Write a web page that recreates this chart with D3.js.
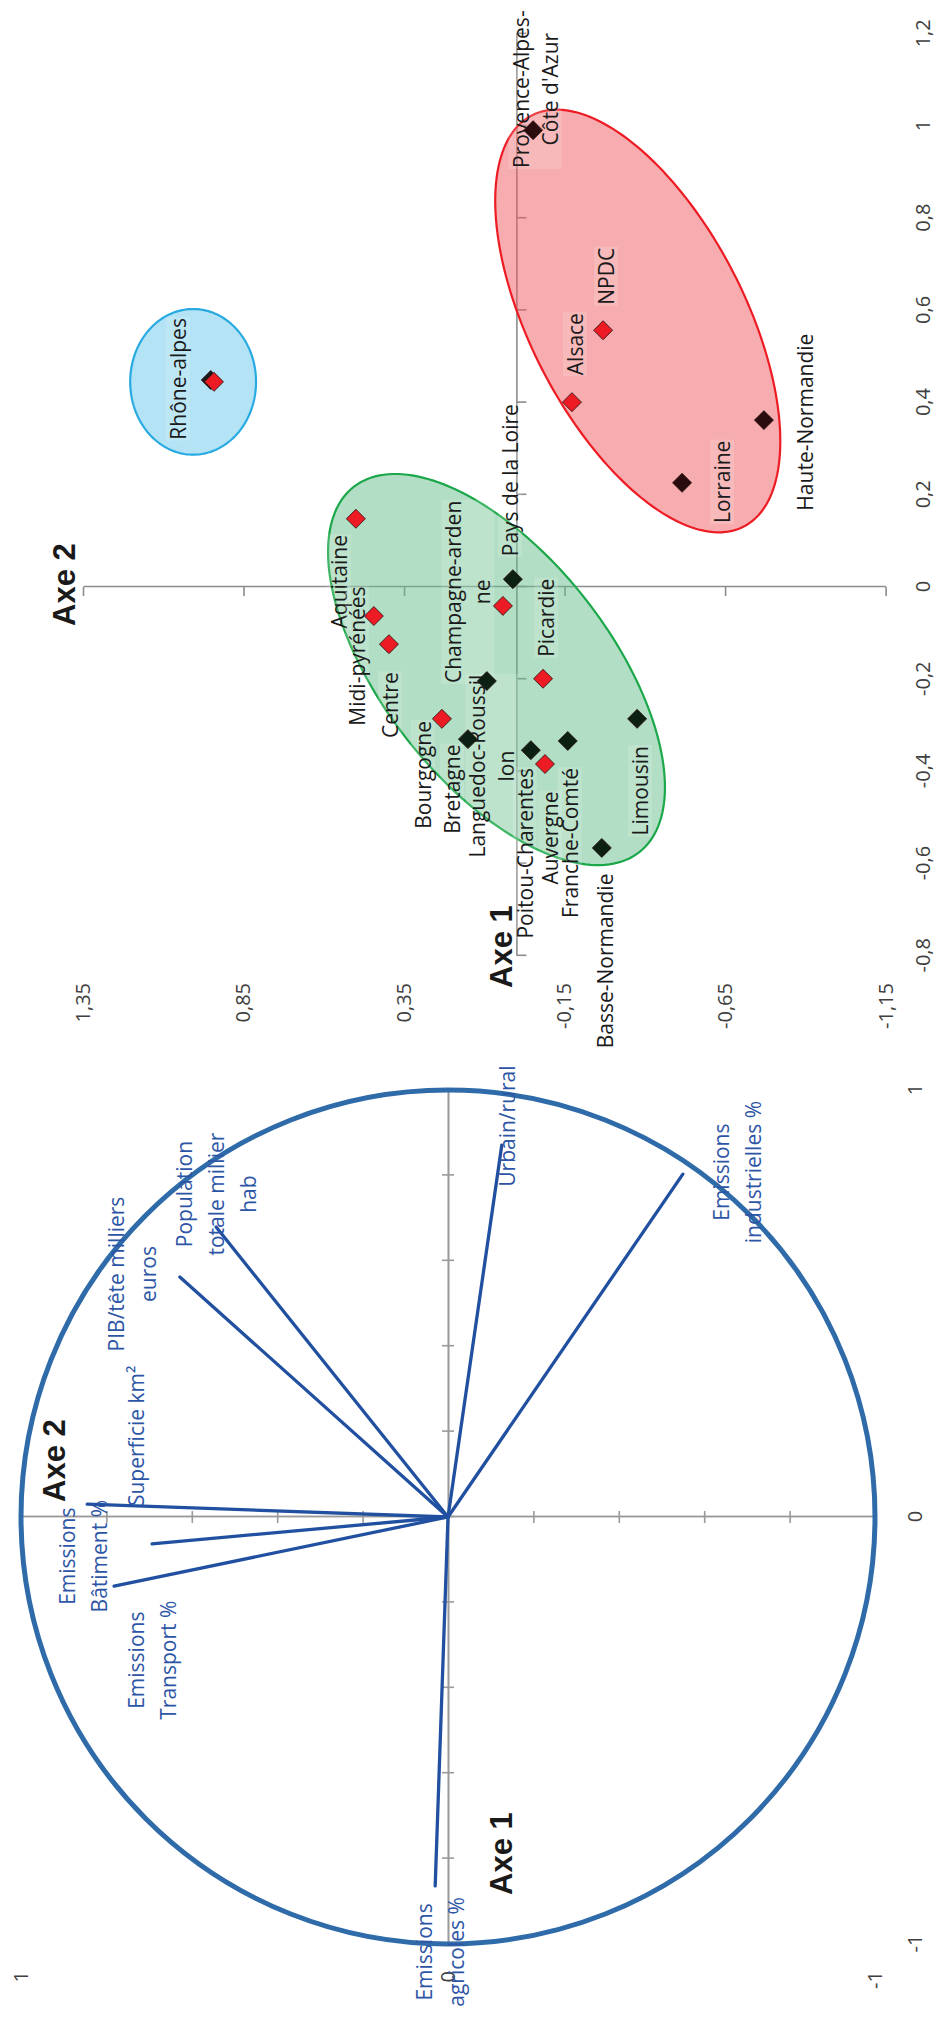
<!DOCTYPE html>
<html>
<head>
<meta charset="utf-8">
<script src="https://cdn.jsdelivr.net/npm/d3@7"></script>
<style>
  html, body { margin: 0; padding: 0; background: #fff; }
  svg { display: block; }
</style>
</head>
<body>
<div id="chart"></div>
<script>
// --- Cercle des corrélations : coordonnées des variables sur Axe 1 / Axe 2 ---
const varNames = ["Urbain/rural", "Emissions\nindustrielles %", "Population\ntotale millier\nhab",
  "PIB/tête milliers\neuros", "Emissions\nBâtiment %", "Superficie km²", "Emissions\nTransport %",
  "Emissions\nagricoles %"];
const varAxe1 = [0.871, 0.803, 0.679, 0.562, 0.030, -0.063, -0.162, -0.864];
const varAxe2 = [-0.126, -0.550, 0.543, 0.628, 0.845, 0.693, 0.782, 0.030];

// --- Projection des régions ---
const regNames = ["Provence-Alpes-\nCôte d'Azur", "NPDC", "Alsace", "Haute-Normandie", "Lorraine", "",
  "Rhône-alpes", "Aquitaine", "Midi-pyrénées", "Centre", "Bourgogne", "Bretagne", "Pays de la Loire",
  "Champagne-arden\nne", "Picardie", "Languedoc-Roussil\nlon", "Limousin", "Franche-Comté",
  "Poitou-Charentes", "Auvergne", "Basse-Normandie"];
const regAxe1 = [0.991, 0.557, 0.401, 0.362, 0.226, 0.449, 0.445, 0.148, -0.063, -0.124, -0.286, -0.330,
  0.017, -0.041, -0.199, -0.204, -0.286, -0.334, -0.354, -0.384, -0.566];
const regAxe2 = [-0.052, -0.270, -0.173, -0.771, -0.516, 0.952, 0.942, 0.500, 0.444, 0.397, 0.232, 0.151,
  0.011, 0.042, -0.083, 0.092, -0.376, -0.160, -0.045, -0.089, -0.266];
const regMarker = ["noir", "rouge", "rouge", "noir", "noir", "noir", "rouge", "rouge", "rouge", "rouge",
  "rouge", "noir", "noir", "rouge", "rouge", "noir", "noir", "noir", "noir", "rouge", "noir"];
const regGroupe = ["rouge", "rouge", "rouge", "rouge", "rouge", "bleu", "bleu", "vert", "vert", "vert",
  "vert", "vert", "vert", "vert", "vert", "vert", "vert", "vert", "vert", "vert", "vert"];

// --- Groupes (ellipses) : centre et demi-diamètres conjugués, en unités des axes ---
const groupNames = ["bleu", "vert", "rouge"];
const groupAxe1 = [0.445, -0.179, 0.577];
const groupAxe2 = [1.007, 0.062, -0.378];
const groupU = [[0, 0.196], [-0.396, -0.445], [-0.446, -0.330]];
const groupV = [[0.158, 0], [-0.152, 0.278], [-0.106, 0.297]];

// --- Graduations ---
const circleTicks = [-1, -0.8, -0.6, -0.4, -0.2, 0, 0.2, 0.4, 0.6, 0.8, 1];
const circleTickLabels = [-1, 0, 1];
const scatterXTicks = [-0.8, -0.6, -0.4, -0.2, 0, 0.2, 0.4, 0.6, 0.8, 1, 1.2];
const scatterYTicks = [1.35, 0.85, 0.35, -0.15, -0.65, -1.15];

// label offsets (px, from the point)
const varLabelDx = [19, 2, 33, 3, -52, 108, -74, -66];
const varLabelDy = [5, 54, 0, -48, -4, -16, 38, 5];
const regLabelDx = [41, 54, 58, -2, 1, 0, 3, -63, -40, -61, -56, -50, 99, 14, 61, -85, -72, -102, -103, -74, -113];
const regLabelDy = [2, 3, 3, 41, 40, 0, -36, -17, -17, 1, -19, -16, -3, -35, 3, 5, 3, 2, -6, 5, 3];

const W = 938, H = 2022;
const font = "'Open Sans', 'Noto Sans', sans-serif";
const axisGray = "#9a9a9a";
const fmt = d3.formatLocale({ decimal: ",", thousands: " ", grouping: [3], currency: ["", " €"], minus: "-" }).format("~g");

const fills = { bleu: "#67c7eb", vert: "#65bd8b", rouge: "#ef5b61" };
const strokes = { bleu: "#29abe2", vert: "#1ca84a", rouge: "#ed1c24" };
const blackIn = { bleu: "#1a1a1a", vert: "#0b2013", rouge: "#2a0c0e" };

const svg = d3.select("#chart").append("svg").attr("width", W).attr("height", H);
// the whole figure is laid out landscape then turned a quarter turn
const root = svg.append("g").attr("transform", `translate(0,${H}) rotate(-90)`);

function multiline(sel, text, cx, cy, lh) {
  const lines = text.split("\n");
  const t = sel.append("text").attr("text-anchor", "middle");
  lines.forEach((l, i) => {
    t.append("tspan").attr("x", cx).attr("y", cy + (i - (lines.length - 1) / 2) * lh)
      .attr("dominant-baseline", "central").text(l);
  });
  return t;
}

function styleLabels(g, size) {
  g.selectAll("text").attr("font-family", font).attr("font-size", size).attr("fill", "#404040");
}

// ================= Cercle des corrélations =================
const xC = d3.scaleLinear().domain([-1, 1]).range([78, 932]);
const yC = d3.scaleLinear().domain([-1, 1]).range([875, 21]);
const circ = root.append("g");

[d3.axisBottom, d3.axisTop].forEach(ax => {
  const g = circ.append("g").attr("transform", `translate(0,${yC(0)})`)
    .call(ax(xC).tickValues(circleTicks).tickSize(6).tickSizeOuter(0).tickFormat(""));
  g.selectAll("path,line").attr("stroke", axisGray).attr("stroke-width", 1.6);
});
[d3.axisLeft, d3.axisRight].forEach(ax => {
  const g = circ.append("g").attr("transform", `translate(${xC(0)},0)`)
    .call(ax(yC).tickValues(circleTicks).tickSize(6).tickSizeOuter(0).tickFormat(""));
  g.selectAll("path,line").attr("stroke", axisGray).attr("stroke-width", 1.6);
});

const cxl = circ.append("g").attr("transform", "translate(0,908)")
  .call(d3.axisBottom(xC).tickValues(circleTickLabels).tickSize(0).tickPadding(0).tickFormat(fmt));
cxl.select(".domain").remove();
styleLabels(cxl, 20);
const cyl = circ.append("g").attr("transform", "translate(51,0)")
  .call(d3.axisLeft(yC).tickValues(circleTickLabels).tickSize(0).tickPadding(0).tickFormat(fmt));
cyl.select(".domain").remove();
styleLabels(cyl, 20);

circ.append("ellipse")
  .attr("cx", xC(0)).attr("cy", yC(0))
  .attr("rx", xC(1) - xC(0)).attr("ry", yC(0) - yC(1))
  .attr("fill", "none").attr("stroke", "#2e6ba8").attr("stroke-width", 5);

circ.selectAll("line.vec").data(varNames).join("line").attr("class", "vec")
  .attr("x1", xC(0)).attr("y1", yC(0))
  .attr("x2", (d, i) => xC(varAxe1[i])).attr("y2", (d, i) => yC(varAxe2[i]))
  .attr("stroke", "#2150a0").attr("stroke-width", 3.3).attr("stroke-linecap", "round");

const varLab = circ.append("g").attr("font-family", font).attr("font-size", 21).attr("fill", "#2d55a5");
varNames.forEach((n, i) => {
  multiline(varLab, n, xC(varAxe1[i]) + varLabelDx[i], yC(varAxe2[i]) + varLabelDy[i], 32);
});

circ.append("text").attr("x", 520).attr("y", 65).text("Axe 2");
circ.append("text").attr("x", 127).attr("y", 512).text("Axe 1");

// ================= Nuage des régions =================
const xS = d3.scaleLinear().domain([-0.8, 1.2]).range([1066.2, 1988.2]);
const yS = d3.scaleLinear().domain([-1.15, 1.35]).range([885.6, 83]);
const sc = root.append("g");

const gx = sc.append("g").attr("transform", `translate(0,${yS(0)})`)
  .call(d3.axisBottom(xS).tickValues(scatterXTicks).tickSize(10).tickSizeOuter(0).tickFormat(""));
gx.selectAll("path,line").attr("stroke", "#8c8c8c").attr("stroke-width", 1.6);
const gy = sc.append("g").attr("transform", `translate(${xS(0)},0)`)
  .call(d3.axisLeft(yS).tickValues(scatterYTicks).tickSize(9).tickSizeOuter(0).tickFormat(""));
gy.selectAll("path,line").attr("stroke", "#8c8c8c").attr("stroke-width", 1.6);

const sxl = sc.append("g").attr("transform", "translate(0,916)")
  .call(d3.axisBottom(xS).tickValues(scatterXTicks).tickSize(0).tickPadding(0).tickFormat(fmt));
sxl.select(".domain").remove();
styleLabels(sxl, 20);
const syl = sc.append("g").attr("transform", "translate(1039,0)")
  .call(d3.axisLeft(yS).tickValues(scatterYTicks).tickSize(0).tickPadding(0).tickFormat(fmt));
syl.select(".domain").remove();
styleLabels(syl, 20);

// ellipses
const ring = d3.line().curve(d3.curveLinearClosed);
const angles = d3.range(0, 360, 2).map(a => a * Math.PI / 180);
sc.selectAll("path.grp").data(groupNames).join("path").attr("class", "grp")
  .attr("d", (g, i) => ring(angles.map(t => [
    xS(groupAxe1[i] + groupU[i][0] * Math.cos(t) + groupV[i][0] * Math.sin(t)),
    yS(groupAxe2[i] + groupU[i][1] * Math.cos(t) + groupV[i][1] * Math.sin(t))
  ])))
  .attr("fill", g => fills[g]).attr("fill-opacity", 0.5)
  .attr("stroke", g => strokes[g]).attr("stroke-width", 2.2);

// labels (behind markers)
const regLab = sc.append("g").attr("font-family", font).attr("font-size", 21).attr("fill", "#1a1a1a");
regNames.forEach((n, i) => {
  if (!n) return;
  const t = multiline(regLab, n, xS(regAxe1[i]) + regLabelDx[i], yS(regAxe2[i]) + regLabelDy[i], 29);
  const b = t.node().getBBox();
  regLab.insert("rect", () => t.node())
    .attr("x", b.x - 1).attr("y", b.y + 2).attr("width", b.width + 2).attr("height", b.height - 4)
    .attr("fill", "#fff").attr("fill-opacity", 0.15);
});

const diamond = d3.symbol(d3.symbolSquare, 180);
sc.selectAll("path.pt").data(regNames).join("path").attr("class", "pt")
  .attr("d", diamond)
  .attr("transform", (d, i) => `translate(${xS(regAxe1[i])},${yS(regAxe2[i])}) rotate(45)`)
  .attr("fill", (d, i) => regMarker[i] === "rouge" ? "#ed1c24" : blackIn[regGroupe[i]])
  .attr("stroke", "#2a1010").attr("stroke-width", 0.8);

sc.append("text").attr("x", 1396).attr("y", 75).text("Axe 2");
sc.append("text").attr("x", 1034).attr("y", 512).text("Axe 1");

root.selectAll(":scope > g > text")
  .attr("font-family", "'Liberation Sans', Arial, sans-serif")
  .attr("font-weight", "bold").attr("font-size", 31).attr("fill", "#1a1a1a");
</script>
</body>
</html>
